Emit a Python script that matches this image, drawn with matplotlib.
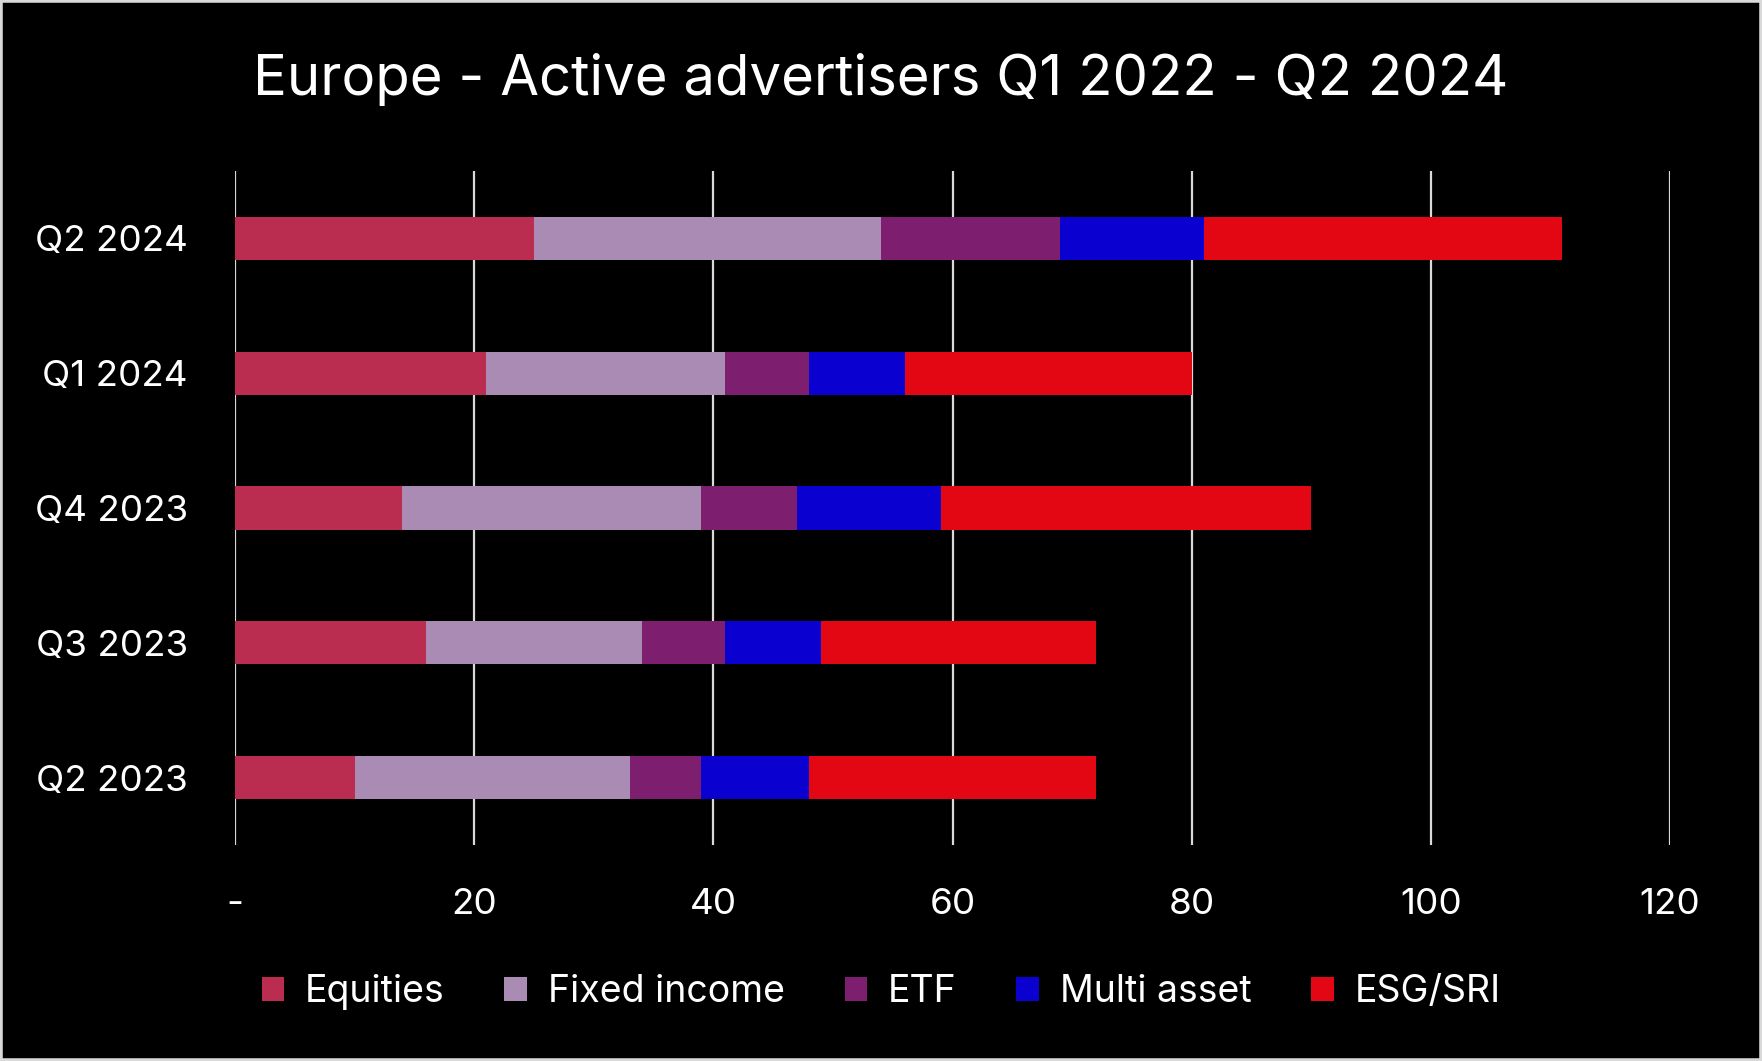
import numpy as np
import matplotlib.pyplot as plt
from matplotlib.patches import Rectangle

plt.rcParams['font.family'] = ['Inter', 'DejaVu Sans']

quarters = ["Q2 2023", "Q3 2023", "Q4 2023", "Q1 2024", "Q2 2024"]
equities = [10, 16, 14, 21, 25]
fixed_income = [23, 18, 25, 20, 29]
etf = [6, 7, 8, 7, 15]
multi_asset = [9, 8, 12, 8, 12]
esg_sri = [24, 23, 31, 24, 30]

series = [
    ("Equities", equities, "#BA2D50"),
    ("Fixed income", fixed_income, "#A98BB3"),
    ("ETF", etf, "#7E1E6E"),
    ("Multi asset", multi_asset, "#0A00D0"),
    ("ESG/SRI", esg_sri, "#E30613"),
]

fig = plt.figure(figsize=(17.62, 10.61), dpi=100, facecolor="black")
ax = fig.add_axes([235 / 1762, 1 - 845 / 1061, (1670 - 235) / 1762, (845 - 171) / 1061])
ax.set_facecolor("black")

y = np.arange(len(quarters))
left = np.zeros(len(quarters))
for name, vals, col in series:
    ax.barh(y, vals, left=left, height=0.32, color=col, label=name, zorder=3)
    left += np.array(vals)

ax.set_xlim(0, 120)
ax.set_ylim(-0.5, 4.5)
ax.set_xticks(range(0, 121, 20))
ax.set_xticklabels(["-"] + [str(v) for v in range(20, 121, 20)])
ax.set_yticks(y)
ax.set_yticklabels(quarters)
ax.grid(axis="x", color="#D9D9D9", linewidth=1.6, zorder=0)
for s in ax.spines.values():
    s.set_visible(False)
ax.tick_params(axis="both", length=0, colors="white", labelsize=26.5)
ax.tick_params(axis="y", pad=34)
ax.tick_params(axis="x", pad=31)

fig.text(0.5, 1 - 79 / 1061, "Europe - Active advertisers Q1 2022 - Q2 2024",
         ha="center", va="center", color="white", fontsize=40.5)

leg = fig.legend(loc="center", bbox_to_anchor=(0.5, 1 - 992 / 1061), ncol=5,
                 frameon=False, fontsize=27, labelcolor="white",
                 handlelength=0.6, handleheight=0.6, handletextpad=0.55,
                 columnspacing=1.6)

fig.patches.append(Rectangle((0, 0), 1, 1, transform=fig.transFigure,
                             fill=False, edgecolor="#D9D9D9", linewidth=4))

fig.savefig("out.png", facecolor="black")
